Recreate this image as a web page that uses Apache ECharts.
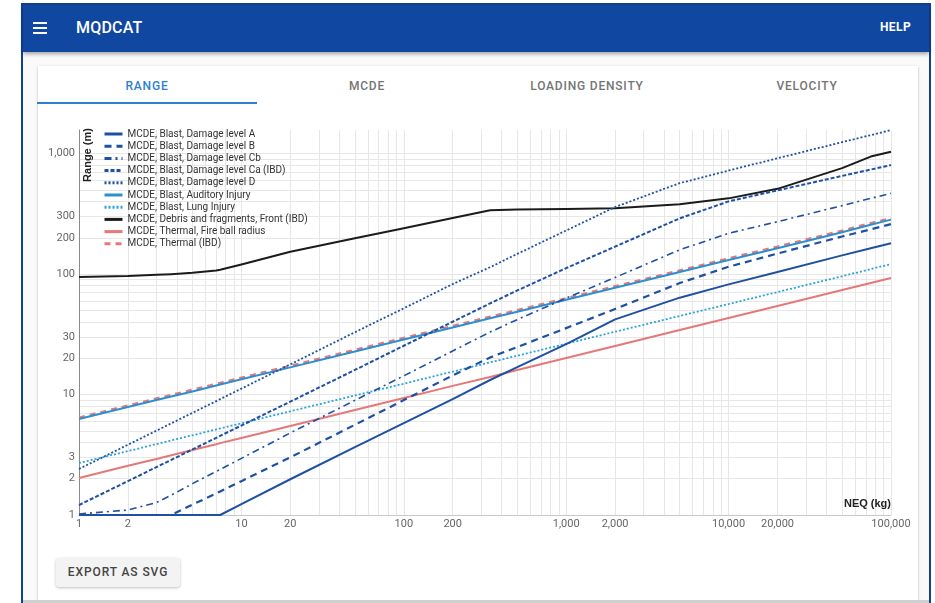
<!DOCTYPE html>
<html>
<head>
<meta charset="utf-8">
<script src="https://cdn.jsdelivr.net/npm/echarts@6/dist/echarts.min.js"></script>
<style>
html,body{margin:0;padding:0;width:935px;height:603px;overflow:hidden;background:#ffffff;font-family:Roboto,"Noto Sans",Arial,sans-serif;}
#frame{position:absolute;left:21px;top:3px;width:910px;height:600px;box-sizing:border-box;border:2px solid #12408f;border-bottom:none;background:#fafafa;}
#bar{position:absolute;left:23px;top:5px;width:906px;height:47px;background:#0f47a1;box-shadow:0 2px 4px rgba(0,0,0,0.35);}
#menu{position:absolute;left:33px;top:22px;width:14px;height:12px;}
#menu div{position:absolute;left:0;width:14px;height:2px;background:#fff;}
#title{position:absolute;left:76px;top:18px;color:#fff;font-size:16px;font-weight:500;letter-spacing:0.2px;}
#help{position:absolute;left:880px;top:20px;color:#fff;font-size:12px;font-weight:700;letter-spacing:0.4px;}
#card{position:absolute;left:38px;top:66px;width:880px;height:536px;background:#fff;box-shadow:0 1px 3px rgba(0,0,0,0.2),0 1px 1px rgba(0,0,0,0.12);}
.tab{position:absolute;top:79px;width:220px;text-align:center;font-size:12px;font-weight:500;letter-spacing:0.8px;color:#757575;}
#ind{position:absolute;left:37px;top:102px;width:220px;height:2px;background:#2f7fd0;}
#btn{position:absolute;left:56px;top:558px;width:124px;height:29px;background:#f3f3f3;border-radius:3px;box-shadow:0 1px 3px rgba(0,0,0,0.25);font-size:12px;font-weight:500;letter-spacing:0.9px;color:#444;text-align:center;line-height:29px;}
#bottom{position:absolute;left:23px;top:600px;width:906px;height:3px;background:#cfcfcf;}
#chart{position:absolute;left:0;top:0;width:935px;height:603px;z-index:5;}
</style>
</head>
<body>
<div id="frame"></div>
<div id="bar"></div>
<div id="menu"><div style="top:0"></div><div style="top:5px"></div><div style="top:10px"></div></div>
<div id="title">MQDCAT</div>
<div id="help">HELP</div>
<div id="card"></div>
<div class="tab" style="left:37px;color:#2f7fd0;">RANGE</div>
<div class="tab" style="left:257px;">MCDE</div>
<div class="tab" style="left:477px;">LOADING DENSITY</div>
<div class="tab" style="left:697px;">VELOCITY</div>
<div id="ind"></div>
<div id="btn">EXPORT AS SVG</div>
<div id="bottom"></div>
<div id="chart"></div>
<script>
// ---- data (NEQ in kg, range in m) ----
const neq = [1, 2, 3, 3.7, 5, 7, 7.4, 10, 20, 50, 100, 200, 340, 500, 1000, 2000, 5000, 10000, 20000, 50000, 75000, 100000];

const damageA   = [1, 1, 1, 1, 1, 1, 1, 1.23, 1.98, 3.66, 5.80, 9.17, 13.2, 16.9, 26.2, 42.1, 63.7, 82.1, 104, 143, 164, 180];
const damageB   = [1, 1, 1, 1, 1.22, 1.51, 1.57, 1.91, 3.01, 5.61, 8.99, 14.4, 20.3, 24.8, 35.6, 51.3, 84.2, 115, 148, 205, 235, 260];
const damageCb  = [1.02, 1.10, 1.27, 1.46, 1.82, 2.30, 2.39, 2.95, 4.80, 8.95, 14.3, 23.0, 33.0, 41.9, 63.1, 93.7, 159, 218, 272, 370, 425, 468];
const damageCa  = [1.21, 1.91, 2.50, 2.87, 3.50, 4.37, 4.54, 5.53, 8.73, 16.0, 25.4, 40.2, 57.1, 73.1, 112, 169, 290, 401, 495, 653, 737, 803];
const damageD   = [2.41, 3.83, 5.01, 5.77, 7.05, 8.82, 9.16, 11.2, 17.8, 32.9, 52.0, 82.6, 114, 147, 230, 360, 569, 724, 914, 1245, 1423, 1567];
const auditory  = [6.26, 7.87, 9.00, 9.64, 10.6, 11.9, 12.1, 13.4, 16.8, 22.8, 28.6, 36.0, 42.9, 48.7, 61.2, 76.9, 104, 131, 164, 222, 257, 283];
const lung      = [2.70, 3.39, 3.88, 4.16, 4.59, 5.13, 5.23, 5.77, 7.26, 9.82, 12.3, 15.5, 18.5, 21.0, 26.4, 33.2, 44.9, 56.4, 70.9, 95.9, 110, 121];
const debris    = [94.5, 96.2, 98.5, 99.8, 102.5, 107, 108.5, 120, 153, 198, 240, 292, 339, 343, 347, 352, 380, 425, 510, 757, 945, 1035];
const fireBall  = [2.03, 2.56, 2.92, 3.13, 3.46, 3.87, 3.95, 4.36, 5.49, 7.44, 9.36, 11.8, 14.0, 16.0, 20.1, 25.3, 34.3, 43.2, 54.4, 73.7, 84.3, 92.8];
const thermalIBD= [6.44, 8.10, 9.27, 9.93, 10.96, 12.26, 12.46, 13.8, 17.3, 23.5, 29.5, 37.1, 44.2, 50.2, 63.0, 79.2, 107, 135, 169, 229, 265, 291];

const seriesNames = [
  'MCDE, Blast, Damage level A',
  'MCDE, Blast, Damage level B',
  'MCDE, Blast, Damage level Cb',
  'MCDE, Blast, Damage level Ca (IBD)',
  'MCDE, Blast, Damage level D',
  'MCDE, Blast, Auditory Injury',
  'MCDE, Blast, Lung Injury',
  'MCDE, Debris and fragments, Front (IBD)',
  'MCDE, Thermal, Fire ball radius',
  'MCDE, Thermal (IBD)'
];
const seriesValues = [damageA, damageB, damageCb, damageCa, damageD, auditory, lung, debris, fireBall, thermalIBD];

const xTickLabels = [1, 2, 10, 20, 100, 200, 1000, 2000, 10000, 20000, 100000];
const yTickLabels = [1, 2, 3, 10, 20, 30, 100, 200, 300, 1000];
const xDecades = [1, 10, 100, 1000, 10000];
const yDecades = [1, 10, 100, 1000];
const mult = [1, 2, 3, 4, 5, 6, 7, 8, 9];
const yMax = 1570;

// ---- styles ----
const darkBlue = '#1f50a2', midBlue = '#2b8fd0', lightBlue = '#2ba3d8', salmon = '#e57878', black = '#1b1b1b';
const styles = [
  {color: darkBlue, width: 2, type: 'solid'},
  {color: darkBlue, width: 2.2, type: [7, 5]},
  {color: darkBlue, width: 1.6, type: [7, 4, 2, 4]},
  {color: darkBlue, width: 2, type: [4, 2]},
  {color: darkBlue, width: 1.8, type: [2, 2]},
  {color: midBlue, width: 2, type: 'solid'},
  {color: lightBlue, width: 1.8, type: [2, 2]},
  {color: black, width: 2, type: 'solid'},
  {color: salmon, width: 2, type: 'solid'},
  {color: salmon, width: 2.4, type: [6, 5]}
];

const gridX = [];
xDecades.forEach(d => mult.forEach(m => gridX.push(d * m)));
gridX.push(100000);
const gridY = [];
yDecades.forEach(d => mult.forEach(m => { if (d * m <= yMax) gridY.push(d * m); }));

const fmt = v => Number(v).toLocaleString('en-US');

const series = seriesNames.map((name, i) => ({
  name: name,
  type: 'line',
  data: neq.map((x, j) => [x, seriesValues[i][j]]),
  showSymbol: false,
  symbol: 'none',
  smooth: false,
  lineStyle: {color: styles[i].color, width: styles[i].width, type: styles[i].type, join: 'round'},
  itemStyle: {color: styles[i].color},
  z: 10 - i,
  animation: false
}));

const chart = echarts.init(document.getElementById('chart'), null, {renderer: 'canvas'});
chart.setOption({
  animation: false,
  grid: {left: 79, right: 44, top: 130, bottom: 88, containLabel: false},
  legend: {
    orient: 'vertical', left: 103, top: 129, padding: 0,
    itemWidth: 18, itemHeight: 10, itemGap: 2.2,
    textStyle: {fontSize: 10, color: '#333', fontFamily: 'Roboto', lineHeight: 10},
    lineStyle: {width: 3},
    itemStyle: {opacity: 0},
    data: seriesNames
  },
  xAxis: {
    type: 'log', logBase: 10, min: 1, max: 100000,
    axisLine: {show: true, onZero: false, lineStyle: {color: '#c8c8c8', width: 1}},
    axisTick: {show: false, customValues: gridX},
    axisLabel: {customValues: xTickLabels, formatter: v => fmt(v), fontSize: 11, color: '#666', margin: 4, fontFamily: 'Roboto'},
    splitLine: {show: true, lineStyle: {color: '#e7e7e7', width: 1}}
  },
  yAxis: {
    type: 'log', logBase: 10, min: 1, max: yMax,
    axisLine: {show: true, lineStyle: {color: '#8a8a8a', width: 1}},
    axisTick: {show: false, customValues: gridY},
    axisLabel: {customValues: yTickLabels, formatter: v => fmt(v), fontSize: 11, color: '#666', margin: 4, fontFamily: 'Roboto'},
    splitLine: {show: true, lineStyle: {color: '#e7e7e7', width: 1}}
  },
  graphic: [
    {type: 'text', x: 88, y: 155, rotation: Math.PI / 2, z: 100,
     style: {text: 'Range (m)', font: 'bold 11px Arial, "Liberation Sans", sans-serif', fill: '#222', align: 'center', verticalAlign: 'middle'}},
    {type: 'text', x: 891, y: 504, z: 100,
     style: {text: 'NEQ (kg)', font: 'bold 11px Arial, "Liberation Sans", sans-serif', fill: '#222', align: 'right', verticalAlign: 'middle'}}
  ],
  series: series
});
</script>
</body>
</html>
